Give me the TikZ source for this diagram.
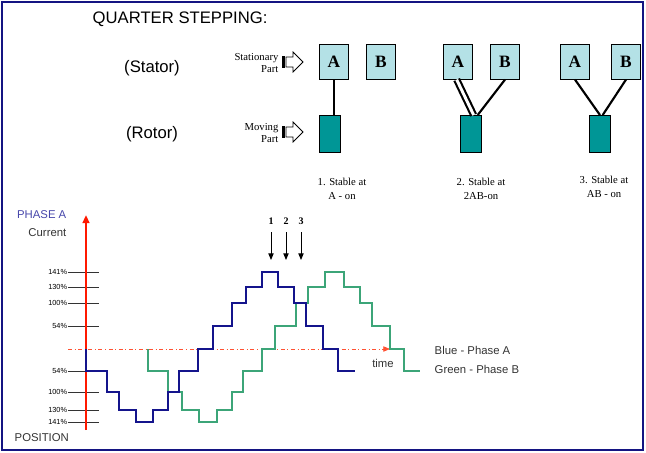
\documentclass[tikz,border=0pt]{standalone}
\usepackage{fontspec}
\setmainfont{Liberation Sans}
\newfontfamily\tms{Liberation Serif}
\usetikzlibrary{arrows.meta}
\definecolor{frame}{RGB}{20,20,130}
\definecolor{stat}{RGB}{180,225,230}
\definecolor{rot}{RGB}{0,150,150}
\definecolor{bluew}{RGB}{20,20,140}
\definecolor{greenw}{RGB}{60,165,120}
\definecolor{phase}{RGB}{70,70,170}
\begin{document}
\begin{tikzpicture}[x=0.75pt,y=-0.75pt,
  sbox/.style={draw=black,fill=stat,minimum width=22pt,minimum height=26pt,inner sep=0pt,font=\tms\bfseries\fontsize{13}{13}\selectfont},
  rbox/.style={draw=black,fill=rot,minimum width=16pt,minimum height=28pt,inner sep=0pt},
  link/.style={line width=1.6pt},
  tick/.style={draw=black!80,line width=0.6pt},
  tlab/.style={anchor=east,font=\fontsize{5.5}{6}\selectfont,inner sep=0.5pt},
  slab/.style={font=\tms\fontsize{8}{10}\selectfont,align=center},
  plab/.style={font=\tms\fontsize{8}{9}\selectfont,align=right,anchor=east,inner sep=1pt},
  big/.style={font=\fontsize{12.5}{14}\selectfont}]
\useasboundingbox (0,0) rectangle (646,453);
\draw[frame,line width=1.2pt] (2,2) rectangle (643,450);
\node[big,anchor=west] (title) at (88,19) {QUARTER STEPPING:};
\node[big] (stator) at (152,68) {(Stator)};
\node[big] (rotor) at (152,134) {(Rotor)};
\node[plab] (sp) at (280,63) {Stationary\\Part};
\node[plab] (mp) at (280,133) {Moving\\Part};
\foreach \y/\n in {62/ba1,132/ba2}{
  \fill (282,\y-6) rectangle (285,\y+6);
  \draw[fill=white,line width=0.6pt] (286,\y-5) -- (293,\y-5) -- (293,\y-10) -- (303,\y) -- (293,\y+10) -- (293,\y+5) -- (286,\y+5) -- cycle;
}
% group 1
\node[sbox] (A1) at (334,62) {A};
\node[sbox] (B1) at (381,62) {B};
\node[rbox] (R1) at (330,134) {};
\draw[link] (A1.south) -- (A1.south |- R1.north);
% group 2
\node[sbox] (A2) at (458,62) {A};
\node[sbox] (B2) at (505,62) {B};
\node[rbox] (R2) at (471,134) {};
\draw[double=white,double distance=2.2pt,line width=1.6pt] ([xshift=-1pt]A2.south) -- ([xshift=2pt]R2.north);
\draw[link] (B2.south) -- ([xshift=5pt]R2.north);
% group 3
\node[sbox] (A3) at (575,62) {A};
\node[sbox] (B3) at (626,62) {B};
\node[rbox] (R3) at (600,134) {};
\draw[link] (A3.south) -- ([xshift=0pt]R3.north);
\draw[link] (B3.south) -- ([xshift=2pt]R3.north);
\node[slab] (s1) at (342,189) {1. Stable at\\A - on};
\node[slab] (s2) at (481,189) {2. Stable at\\2AB-on};
\node[slab] (s3) at (604,187) {3. Stable at\\AB - on};
% chart
\node[phase,anchor=east,font=\fontsize{8.5}{10}\selectfont] (ph) at (71,215) {PHASE A};
\node[black!80,anchor=east,font=\fontsize{8.5}{10}\selectfont] (cur) at (71,233) {Current};
\node[black!80,anchor=west,font=\fontsize{8.5}{10}\selectfont] (pos) at (10,438) {POSITION};
\foreach \y/\t in {272/141,287/130,303/100,326/54,371/54,392/100,410/130,422/141}{
  \draw[tick] (68,\y) -- (99,\y);
  \node[tlab] at (68,\y) {\t\%};
}
\coordinate (zs) at (68,349);
\coordinate (ze) at (390,349);
\draw[red!70!orange!80,line width=0.6pt,dash dot,-{Triangle[length=5pt,width=4pt]}] (zs) -- (ze);
\coordinate (ab) at (86,430);
\coordinate (at) at (86,215);
\draw[red!80!orange,line width=2pt,-{Triangle[length=6pt,width=5pt]}] (ab) -- (at);
\node[black!80,font=\fontsize{8.5}{10}\selectfont] (time) at (383,363) {time};
\node[black!80,anchor=west,font=\fontsize{8.5}{10}\selectfont] (lb) at (430,350) {Blue - Phase A};
\node[black!80,anchor=west,font=\fontsize{8.5}{10}\selectfont] (lg) at (430,369) {Green - Phase B};
% green wave
\draw[greenw,line width=1.1pt] (148,349) -- (148,371) -- (168,371) -- (168,392) -- (182,392) -- (182,410) -- (199,410) -- (199,422) -- (217,422) -- (217,410) -- (232,410) -- (232,392) -- (243,392) -- (243,371) -- (262,371) -- (262,349) -- (275,349) -- (275,326) -- (296,326) -- (296,303) -- (308,303) -- (308,287) -- (325,287) -- (325,272) -- (344,272) -- (344,287) -- (360,287) -- (360,303) -- (372,303) -- (372,326) -- (390,326) -- (390,349) -- (404,349) -- (404,371) -- (420,371);
% blue wave
\draw[bluew,line width=1.1pt] (86,349) -- (86,371) -- (107,371) -- (107,392) -- (119,392) -- (119,410) -- (136,410) -- (136,422) -- (153,422) -- (153,410) -- (168,410) -- (168,392) -- (179,392) -- (179,371) -- (198,371) -- (198,349) -- (213,349) -- (213,326) -- (232,326) -- (232,303) -- (246,303) -- (246,287) -- (262,287) -- (262,272) -- (278,272) -- (278,287) -- (294,287) -- (294,303) -- (306,303) -- (306,326) -- (323,326) -- (323,349) -- (338,349) -- (338,371) -- (355,371);
% step arrows
\foreach \x/\n in {271/1,286/2,301/3}{
  \node[font=\tms\bfseries\fontsize{7.5}{8}\selectfont] (n\n) at (\x,221) {\n};
  \coordinate (t\n) at (\x,232);
  \coordinate (h\n) at (\x,260);
  \draw[line width=0.7pt,-{Triangle[length=5pt,width=4pt]}] (t\n) -- (h\n);
}
\end{tikzpicture}
\end{document}
